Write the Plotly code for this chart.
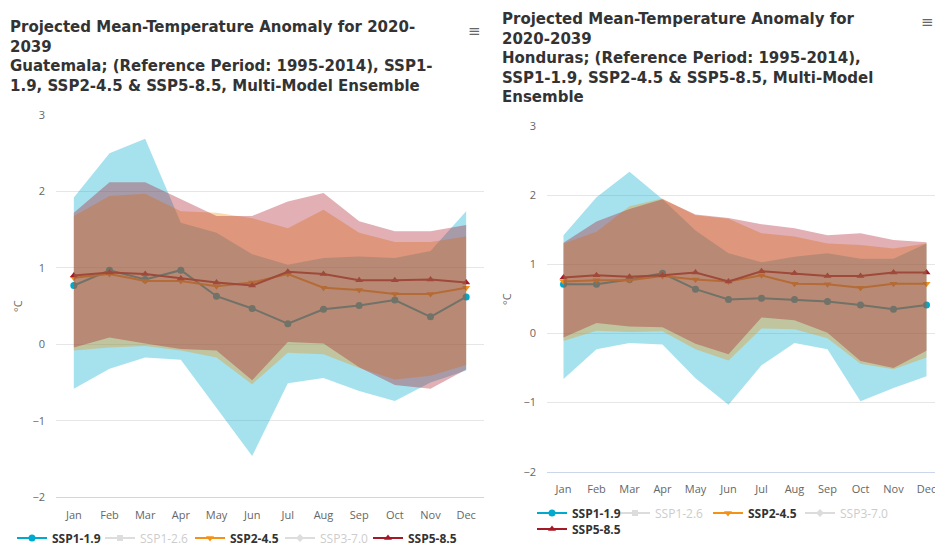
import plotly.graph_objects as go

# ---- data -------------------------------------------------------------
months = ["Jan", "Feb", "Mar", "Apr", "May", "Jun",
          "Jul", "Aug", "Sep", "Oct", "Nov", "Dec"]

# Guatemala: multi-model ensemble median and 10th-90th percentile range (°C)
gt_ssp119_med = [0.77, 0.97, 0.85, 0.97, 0.63, 0.47, 0.27, 0.46, 0.51, 0.58, 0.36, 0.62]
gt_ssp119_hi = [1.92, 2.50, 2.69, 1.59, 1.46, 1.18, 1.04, 1.13, 1.15, 1.13, 1.22, 1.74]
gt_ssp119_lo = [-0.58, -0.32, -0.17, -0.20, -0.83, -1.46, -0.51, -0.44, -0.61, -0.74, -0.50, -0.34]

gt_ssp245_med = [0.87, 0.92, 0.83, 0.83, 0.76, 0.81, 0.92, 0.74, 0.71, 0.66, 0.66, 0.74]
gt_ssp245_hi = [1.68, 1.94, 1.97, 1.74, 1.72, 1.65, 1.52, 1.76, 1.46, 1.34, 1.34, 1.41]
gt_ssp245_lo = [-0.08, -0.04, -0.02, -0.08, -0.17, -0.52, -0.11, -0.13, -0.31, -0.46, -0.41, -0.27]

gt_ssp585_med = [0.90, 0.94, 0.92, 0.86, 0.81, 0.77, 0.95, 0.92, 0.84, 0.84, 0.85, 0.81]
gt_ssp585_hi = [1.72, 2.12, 2.12, 1.90, 1.68, 1.68, 1.87, 1.98, 1.61, 1.48, 1.48, 1.56]
gt_ssp585_lo = [-0.04, 0.09, 0.01, -0.06, -0.08, -0.47, 0.03, 0.01, -0.30, -0.53, -0.58, -0.33]

# Honduras
hn_ssp119_med = [0.71, 0.71, 0.78, 0.87, 0.64, 0.49, 0.51, 0.49, 0.46, 0.41, 0.35, 0.41]
hn_ssp119_hi = [1.42, 1.97, 2.34, 1.94, 1.49, 1.16, 1.03, 1.11, 1.16, 1.08, 1.08, 1.30]
hn_ssp119_lo = [-0.66, -0.23, -0.14, -0.16, -0.65, -1.03, -0.46, -0.14, -0.23, -0.98, -0.79, -0.62]

hn_ssp245_med = [0.75, 0.77, 0.77, 0.83, 0.78, 0.75, 0.84, 0.72, 0.71, 0.66, 0.72, 0.72]
hn_ssp245_hi = [1.30, 1.47, 1.84, 1.95, 1.71, 1.66, 1.45, 1.40, 1.30, 1.28, 1.23, 1.30]
hn_ssp245_lo = [-0.11, 0.04, 0.02, 0.03, -0.23, -0.39, 0.07, 0.06, -0.07, -0.44, -0.52, -0.35]

hn_ssp585_med = [0.81, 0.84, 0.82, 0.84, 0.88, 0.75, 0.90, 0.87, 0.83, 0.83, 0.88, 0.88]
hn_ssp585_hi = [1.31, 1.62, 1.80, 1.94, 1.72, 1.67, 1.58, 1.52, 1.42, 1.45, 1.35, 1.32]
hn_ssp585_lo = [-0.06, 0.15, 0.10, 0.09, -0.15, -0.30, 0.23, 0.19, 0.01, -0.40, -0.50, -0.25]

y_ticks = [-2, -1, 0, 1, 2, 3]

gt_title = ["Projected Mean-Temperature Anomaly for 2020-", "2039",
            "Guatemala; (Reference Period: 1995-2014), SSP1-",
            "1.9, SSP2-4.5 & SSP5-8.5, Multi-Model Ensemble"]
hn_title = ["Projected Mean-Temperature Anomaly for", "2020-2039",
            "Honduras; (Reference Period: 1995-2014),",
            "SSP1-1.9, SSP2-4.5 & SSP5-8.5, Multi-Model", "Ensemble"]

# ---- styling ----------------------------------------------------------
W, H = 935, 548
FONT = "Open Sans"
C119 = "rgb(0,170,207)"
C245 = "rgb(244,146,22)"
C585 = "rgb(165,25,38)"
F119 = "rgba(0,170,207,0.35)"
F245 = "rgba(241,146,12,0.35)"
F585 = "rgba(169,26,41,0.35)"


def px_x(p):
    return p / W


def px_y(p):
    return 1 - p / H


fig = go.Figure()


def add_country(xa, ya, legend_a, legend_b, med, hi, lo, widths):
    (m119, m245, m585) = med
    (h119, h245, h585) = hi
    (l119, l245, l585) = lo
    # median lines sit beneath the translucent ranges
    fig.add_trace(go.Scatter(x=months, y=m119, name="<b>SSP1-1.9</b>", mode="lines+markers",
                             line=dict(color=C119, width=2), marker=dict(symbol="circle", size=7),
                             xaxis=xa, yaxis=ya, legend=legend_a, legendwidth=widths[0]))
    fig.add_trace(go.Scatter(x=[None], y=[None], name="<span style='color:#999'>SSP1-2.6</span>",
                             mode="lines+markers", visible="legendonly",
                             line=dict(color="#bbb", width=2), marker=dict(symbol="square", size=6),
                             xaxis=xa, yaxis=ya, legend=legend_a, legendwidth=widths[1]))
    fig.add_trace(go.Scatter(x=months, y=m245, name="<b>SSP2-4.5</b>", mode="lines+markers",
                             line=dict(color=C245, width=2), marker=dict(symbol="triangle-down", size=7),
                             xaxis=xa, yaxis=ya, legend=legend_a, legendwidth=widths[2]))
    fig.add_trace(go.Scatter(x=[None], y=[None], name="<span style='color:#999'>SSP3-7.0</span>",
                             mode="lines+markers", visible="legendonly",
                             line=dict(color="#bbb", width=2), marker=dict(symbol="diamond", size=6),
                             xaxis=xa, yaxis=ya, legend=legend_a, legendwidth=widths[3]))
    fig.add_trace(go.Scatter(x=months, y=m585, name="<b>SSP5-8.5</b>", mode="lines+markers",
                             line=dict(color=C585, width=2), marker=dict(symbol="triangle-up", size=7),
                             xaxis=xa, yaxis=ya, legend=legend_b))
    # percentile ranges as closed polygons
    for h, l, fc in ((h119, l119, F119), (h245, l245, F245), (h585, l585, F585)):
        fig.add_trace(go.Scatter(x=months + months[::-1], y=h + l[::-1], fill="toself",
                                 fillcolor=fc, mode="lines", line=dict(width=0),
                                 hoverinfo="skip", showlegend=False, xaxis=xa, yaxis=ya))


add_country("x", "y", "legend", "legend",
            (gt_ssp119_med, gt_ssp245_med, gt_ssp585_med),
            (gt_ssp119_hi, gt_ssp245_hi, gt_ssp585_hi),
            (gt_ssp119_lo, gt_ssp245_lo, gt_ssp585_lo),
            (43, 45, 45, 43))
add_country("x2", "y2", "legend2", "legend3",
            (hn_ssp119_med, hn_ssp245_med, hn_ssp585_med),
            (hn_ssp119_hi, hn_ssp245_hi, hn_ssp585_hi),
            (hn_ssp119_lo, hn_ssp245_lo, hn_ssp585_lo),
            (38, 48, 47, 45))

xcommon = dict(type="category", categoryarray=months, showgrid=False, ticks="",
               showline=True, linecolor="#ccd6eb", linewidth=1, zeroline=False,
               tickfont=dict(family=FONT, size=11, color="#666"), ticklabelstandoff=7,
               fixedrange=True, automargin=False)
ycommon = dict(range=[-2, 3], tickvals=y_ticks, showgrid=True, gridcolor="#e6e6e6",
               gridwidth=1, zeroline=False, ticks="", showline=False,
               tickfont=dict(family=FONT, size=11, color="#666"), ticklabelstandoff=10,
               fixedrange=True, automargin=False)

legend_common = dict(orientation="h", xanchor="left", yanchor="middle",
                     font=dict(family=FONT, size=12, color="#333"),
                     bgcolor="rgba(0,0,0,0)", itemclick=False, itemdoubleclick=False,
                     tracegroupgap=0)

fig.update_layout(
    width=W, height=H, margin=dict(l=0, r=0, t=0, b=0, autoexpand=False),
    paper_bgcolor="white", plot_bgcolor="white",
    font=dict(family=FONT, color="#333"),
    hovermode=False,
    xaxis=dict(xcommon, domain=[px_x(56), px_x(484)], range=[-0.5, 11.5], anchor="y"),
    yaxis=dict(ycommon, domain=[px_y(497.3), px_y(115)], anchor="x"),
    xaxis2=dict(xcommon, domain=[px_x(547), 1.0], range=[-0.5, 11.5 - 8 / 33], anchor="y2"),
    yaxis2=dict(ycommon, domain=[px_y(471.7), px_y(126)], anchor="x2"),
    legend=dict(legend_common, x=px_x(12), y=px_y(538)),
    legend2=dict(legend_common, x=px_x(532), y=px_y(513)),
    legend3=dict(legend_common, x=px_x(532), y=px_y(529)),
)

# chart titles (wrapped lines in one block each)
title_font = dict(family="DejaVu Sans", size=15, color="#333", weight=700)
for lines, x0, yc in ((gt_title, 8, 56.5), (hn_title, 500, 57.5)):
    fig.add_annotation(text="<br>".join(lines), xref="paper", yref="paper",
                       x=px_x(x0), y=px_y(yc), xanchor="left", yanchor="middle",
                       align="left", showarrow=False, font=title_font)

# unit labels on the value axes
for x0, yc in ((17, 306), (506, 299)):
    fig.add_annotation(text="°C", xref="paper", yref="paper", x=px_x(x0), y=px_y(yc),
                       xanchor="center", yanchor="middle", textangle=-90, showarrow=False,
                       font=dict(family=FONT, size=11, color="#666"))

# export-menu glyphs
for x0, yc in ((474, 31), (927, 22)):
    fig.add_annotation(text="≡", xref="paper", yref="paper", x=px_x(x0), y=px_y(yc),
                       xanchor="center", yanchor="middle", showarrow=False,
                       font=dict(family="DejaVu Sans", size=15, color="#666"))

fig.write_html("out.html")
